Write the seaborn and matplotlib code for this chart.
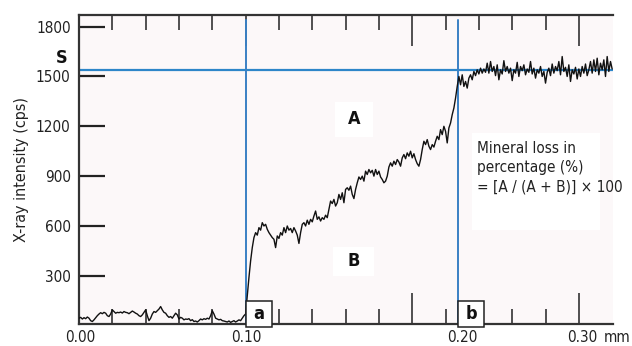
import numpy as np
import pandas as pd
import seaborn as sns
import matplotlib
matplotlib.use("Agg")
import matplotlib.pyplot as plt
from matplotlib.patches import Rectangle
from matplotlib import font_manager

# ---------------- data ----------------
step_mm = 0.001
baseline = [45, 50, 40, 48, 42, 52, 45, 30, 25, 35, 48, 60, 70, 78, 72, 80, 75, 60, 55, 70,
            95, 85, 75, 80, 78, 82, 76, 85, 80, 78, 72, 80, 88, 82, 75, 70, 60, 55, 65, 80,
            95, 60, 30, 45, 70, 85, 80, 90, 100, 115, 95, 80, 75, 60, 50, 55, 45, 60, 75, 65,
            40, 50, 45, 35, 40, 38, 42, 30, 36, 25, 28, 22, 30, 40, 35, 42, 38, 45, 40, 60,
            90, 70, 45, 40, 35, 38, 30, 28, 25, 22, 28, 20, 25, 30, 22, 28, 35, 30, 45, 60]
lesion = [70, 180, 290, 390, 470, 530, 560, 545, 590, 575, 620, 600, 610, 580, 560, 545, 530, 520, 470, 540,
          525, 560, 545, 590, 560, 600, 575, 585, 560, 590, 570, 545, 495, 560, 610, 620, 600, 635, 610, 640,
          625, 660, 690, 640, 655, 630, 650, 640, 665, 650, 700, 750, 735, 760, 720, 740, 790, 760, 800, 740,
          820, 830, 815, 840, 790, 765, 820, 860, 895, 880, 900, 870, 930, 910, 940, 920, 935, 900, 940, 910,
          930, 895, 880, 860, 870, 900, 955, 980, 960, 990, 970, 1000, 985, 960, 1010, 1030, 1005, 1040, 1020, 1050,
          1010, 1035, 1000, 975, 960, 1000, 1060, 1110, 1090, 1120, 1080, 1060, 1090, 1075, 1110, 1140, 1120, 1180, 1150, 1200,
          1170, 1100, 1190, 1220, 1270, 1310, 1370, 1440]
sound = [1500, 1450, 1510, 1440, 1470, 1430, 1490, 1510, 1480, 1530, 1505, 1540, 1515, 1550, 1520, 1545, 1525, 1580, 1520, 1590,
         1530, 1560, 1505, 1570, 1480, 1540, 1515, 1595, 1530, 1560, 1520, 1550, 1475, 1540, 1520, 1585, 1500, 1560, 1535, 1570,
         1510, 1545, 1525, 1590, 1515, 1550, 1490, 1540, 1520, 1560, 1500, 1530, 1460, 1525, 1550, 1505, 1575, 1520, 1560, 1535,
         1590, 1510, 1620, 1530, 1555, 1500, 1570, 1470, 1540, 1515, 1555, 1485, 1545, 1500, 1560, 1520, 1575, 1505, 1540, 1590,
         1520, 1600, 1530, 1610, 1510, 1580, 1540, 1600, 1500, 1620, 1530, 1590, 1545]
intensity = baseline + lesion + sound
depth = np.arange(len(intensity)) * step_mm

s_level = 1540          # sound enamel level S
a_pos = 0.100           # lesion surface (a)
b_pos = 0.2275          # lesion front (b)

ytick_vals = [300, 600, 900, 1200, 1500, 1800]
xtick_major = [0.0, 0.1, 0.2, 0.3]
xtick_labels = ["0.00", "0.10", "0.20", "0.30"]
xtick_label_pos = [0.0005, 0.1005, 0.2303, 0.302]

df = pd.DataFrame({"depth": depth, "intensity": intensity})

# ---------------- figure ----------------
sns.set_theme(style="white")

condensed = False
try:
    fp = font_manager.findfont(font_manager.FontProperties(family="DejaVu Sans", stretch="condensed"),
                               fallback_to_default=False)
    if "ondensed" in fp:
        condensed = True
except Exception:
    pass
if condensed:
    plt.rcParams["font.family"] = ["DejaVu Sans"]
    plt.rcParams["font.stretch"] = "condensed"
    fs = 11
else:
    plt.rcParams["font.family"] = ["Liberation Sans Narrow", "DejaVu Sans"]
    fs = 10

fig = plt.figure(figsize=(6.32, 3.46), dpi=100)
ax = fig.add_axes([79 / 632, 1 - 324 / 346, (613 - 79) / 632, (324 - 15) / 346])
ax.set_facecolor("#FCF8F9")

blue = "#3A80C4"
ax.axhline(s_level, color="#2D86C9", lw=1.6, zorder=2)
ax.axvline(a_pos, color=blue, lw=1.4, zorder=2, ymax=0.985)
ax.axvline(b_pos, color=blue, lw=1.4, zorder=2, ymax=0.985)

sns.lineplot(data=df, x="depth", y="intensity", ax=ax, color="#111111",
             linewidth=1.0, zorder=3, estimator=None)

ax.set_xlim(0, 0.3205)
ax.set_ylim(10, 1870)

for side in ["left", "top", "bottom"]:
    ax.spines[side].set_visible(True)
    ax.spines[side].set_color("#333333")
    ax.spines[side].set_linewidth(1.6)
ax.spines["right"].set_visible(False)

ax.set_yticks(ytick_vals)
ax.set_yticklabels([str(v) for v in ytick_vals])
ax.tick_params(axis="y", direction="in", length=19, width=1.6, color="#222222",
               left=True, right=False, labelsize=fs, pad=6, labelcolor="#222222")
ax.set_xticks(xtick_major)
ax.set_xticks(np.arange(0.02, 0.32, 0.02), minor=True)
ax.set_xticklabels([])
ax.tick_params(axis="x", which="major", direction="in", length=22, width=1.2,
               color="#333333", top=True, bottom=True)
ax.tick_params(axis="x", which="minor", direction="in", length=11, width=1.2,
               color="#333333", top=True, bottom=True)
ax.set_xlabel("")
ax.set_ylabel("X-ray intensity (cps)", fontsize=fs + 0.5, color="#222222", labelpad=5)

xt = ax.get_xaxis_transform()
for pos, lab in zip(xtick_label_pos, xtick_labels):
    ax.text(pos, -0.045, lab, transform=xt, ha="center", va="center",
            fontsize=fs, color="#222222", clip_on=False)
ax.text(0.323, -0.045, "mm", transform=xt, ha="center", va="center",
        fontsize=fs, color="#222222", clip_on=False)

yt = ax.get_yaxis_transform()
ax.text(-0.032, 1610, "S", transform=yt, ha="center", va="center",
        fontsize=13, fontweight="bold", color="#111111", clip_on=False)

for pos, lab in [(a_pos, "a"), (b_pos, "b")]:
    ax.add_patch(Rectangle((pos, -0.01), 0.0156, 0.084, transform=xt,
                           facecolor="white", edgecolor="#222222", lw=1.1,
                           clip_on=False, zorder=5))
    ax.text(pos + 0.0078, 0.032, lab, transform=xt, ha="center", va="center",
            fontsize=13, fontweight="bold", color="#111111", zorder=6, clip_on=False)

ax.add_patch(Rectangle((0.1537, 1137), 0.0228, 210, facecolor="white",
                       edgecolor="none", zorder=1))
ax.text(0.1651, 1242, "A", ha="center", va="center", fontsize=13,
        fontweight="bold", color="#111111", zorder=4)
ax.add_patch(Rectangle((0.1525, 300), 0.0246, 174, facecolor="white",
                       edgecolor="none", zorder=1))
ax.text(0.1648, 387, "B", ha="center", va="center", fontsize=13,
        fontweight="bold", color="#111111", zorder=4)

ax.add_patch(Rectangle((0.2359, 577), 0.0768, 583, facecolor="white",
                       edgecolor="none", zorder=1))
ax.text(0.2389, 1110, "Mineral loss in\npercentage (%)\n= [A / (A + B)] \u00d7 100",
        ha="left", va="top", fontsize=fs, color="#222222", linespacing=1.35, zorder=4)

fig.savefig("out.png", dpi=100)
